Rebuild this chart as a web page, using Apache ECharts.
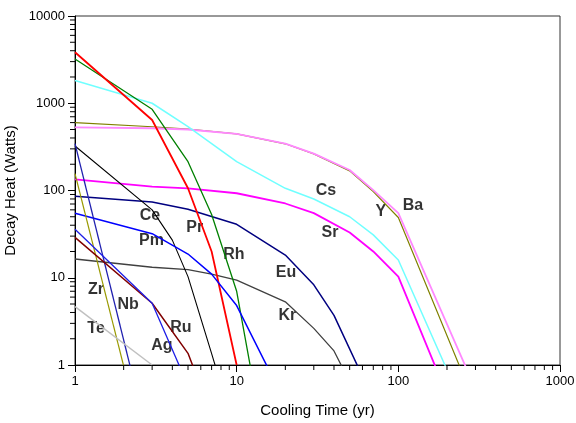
<!DOCTYPE html>
<html>
<head>
<meta charset="utf-8">
<script src="https://cdn.jsdelivr.net/npm/echarts@6/dist/echarts.min.js"></script>
<style>html,body{margin:0;padding:0;background:#fff;}#c{width:576px;height:423px;}</style>
</head>
<body>
<div id="c"></div>
<script>
// Decay heat (Watts) vs cooling time (yr): [time, value]
const ba = [[1,530],[3,517],[5,500],[10,445],[20,345],[30,265],[50,172],[70,101],[100,55],[300,0.53]];
const y_ = [[1,601],[3,538],[5,505],[10,445],[20,343],[30,263],[50,168],[70,97],[100,49],[300,0.35]];
const cs = [[1,1820],[3,1000],[5,540],[10,214],[20,106],[30,80],[50,50],[70,31],[100,16],[200,0.88]];
const sr = [[1,134],[3,111],[5,106],[10,93],[20,71],[30,55],[50,33],[70,20],[100,10.3],[200,0.455]];
const eu = [[1,86],[3,74],[5,61],[10,41],[20,18.2],[30,8.3],[40,3.7],[60,0.74]];
const kr = [[1,16.4],[3,13.2],[5,12.4],[7,11],[10,9.4],[20,5.3],[30,2.63],[40,1.45],[50,0.64]];
const pr = [[1,3840],[3,643],[5,106],[7,20],[10,1.0]];
const rh = [[1,3214],[3,853],[5,214],[7,53],[10,7],[20,0.006]];
const ce = [[1,324],[3,60],[4,27],[5,10.3],[7,1.35],[10,0.15]];
const pm = [[1,55],[3,32],[5,18.7],[7,11],[10,4.8],[20,0.37]];
const zr = [[1,156],[3,0.05]];
const nb = [[1,345],[3,0.093]];
const ru = [[1,29],[3,5.1],[5,1.36],[7,0.27]];
const ag = [[1,36],[3,5.1],[5,0.58]];
const te = [[1,4.66],[3,1.0]];

// element labels: [time, value, text]
const labels = [
  [35.7,101,'Cs'],[123,68,'Ba'],[78,56.7,'Y'],[37.8,32.6,'Sr'],
  [2.91,51,'Ce'],[5.5,37.2,'Pr'],[2.97,26.4,'Pm'],[9.62,18.2,'Rh'],
  [20.2,11.6,'Eu'],[1.35,7.24,'Zr'],[2.13,4.87,'Nb'],[20.6,3.64,'Kr'],
  [1.35,2.59,'Te'],[4.52,2.66,'Ru'],[3.45,1.65,'Ag']
];

const xMinorTicks = [2,3,4,5,6,7,8,9,20,30,40,50,60,70,80,90,200,300,400,500,600,700,800,900];
const yMinorTicks = [2,3,4,5,6,7,8,9,20,30,40,50,60,70,80,90,200,300,400,500,600,700,800,900,2000,3000,4000,5000,6000,7000,8000,9000];

const lineDefs = [
  ['Y', y_, '#808000', 1.2],
  ['Ba', ba, '#FF88FF', 1.8],
  ['Cs', cs, '#70FFFF', 1.5],
  ['Sr', sr, '#FF00FF', 1.8],
  ['Eu', eu, '#000080', 1.5],
  ['Kr', kr, '#404040', 1.3],
  ['Rh', rh, '#008000', 1.3],
  ['Pr', pr, '#FF0000', 1.8],
  ['Ce', ce, '#000000', 1.1],
  ['Pm', pm, '#0000FF', 1.5],
  ['Zr', zr, '#999900', 1.2],
  ['Nb', nb, '#2020B0', 1.3],
  ['Ru', ru, '#800000', 1.5],
  ['Ag', ag, '#1E1EE6', 1.3],
  ['Te', te, '#C0C0C0', 1.5]
];

const FONT = 'Liberation Sans';
const series = lineDefs.map(d => ({
  name: d[0], type: 'line', data: d[1], symbol: 'none', clip: true,
  lineStyle: {color: d[2], width: d[3]}, silent: true
}));

series.push({
  type: 'scatter', symbolSize: 0, silent: true,
  data: labels.map(l => ({value: [l[0], l[1]], name: l[2]})),
  label: {show: true, position: 'inside', formatter: '{b}', color: '#000',
    fontFamily: FONT, fontWeight: 'bold', fontSize: 16}
});

const chart = echarts.init(document.getElementById('c'), null, {renderer: 'canvas'});
chart.setOption({
  animation: false,
  backgroundColor: '#fff',
  grid: {left: 75, right: 16, top: 16, bottom: 58, show: true, borderColor: '#333', borderWidth: 1,
    backgroundColor: 'transparent', containLabel: false, outerBoundsMode: 'none'},
  xAxis: {
    type: 'log', logBase: 10, min: 1, max: 1000,
    name: 'Cooling Time (yr)', nameLocation: 'middle', nameGap: 38,
    nameTextStyle: {fontFamily: FONT, fontSize: 15, color: '#000'},
    axisLine: {show: true, lineStyle: {color: '#000', width: 1}},
    axisTick: {show: true, inside: false, length: 7, lineStyle: {color: '#000', width: 1}},
    axisLabel: {fontFamily: FONT, fontSize: 13, color: '#000', margin: 10,
      formatter: v => String(Math.round(v))},
    splitLine: {show: false}, minorTick: {show: false}
  },
  yAxis: {
    type: 'log', logBase: 10, min: 1, max: 10000,
    name: 'Decay Heat (Watts)', nameLocation: 'middle', nameGap: 52,
    nameTextStyle: {fontFamily: FONT, fontSize: 15, color: '#000'},
    axisLine: {show: true, lineStyle: {color: '#000', width: 1}},
    axisTick: {show: true, inside: false, length: 7, lineStyle: {color: '#000', width: 1}},
    axisLabel: {fontFamily: FONT, fontSize: 13, color: '#000', margin: 10,
      formatter: v => String(Math.round(v))},
    splitLine: {show: false}, minorTick: {show: false}
  },
  series: series
});

// minor ticks placed through the chart's own log scales
const g = [];
xMinorTicks.forEach(v => {
  const p = chart.convertToPixel({gridIndex: 0}, [v, 1]);
  g.push({type: 'line', silent: true, z: 100,
    shape: {x1: p[0], y1: p[1], x2: p[0], y2: p[1] + 5},
    style: {stroke: '#000', lineWidth: 1}});
});
yMinorTicks.forEach(v => {
  const p = chart.convertToPixel({gridIndex: 0}, [1, v]);
  g.push({type: 'line', silent: true, z: 100,
    shape: {x1: p[0] - 5, y1: p[1], x2: p[0], y2: p[1]},
    style: {stroke: '#000', lineWidth: 1}});
});
chart.setOption({graphic: g});
</script>
</body>
</html>
